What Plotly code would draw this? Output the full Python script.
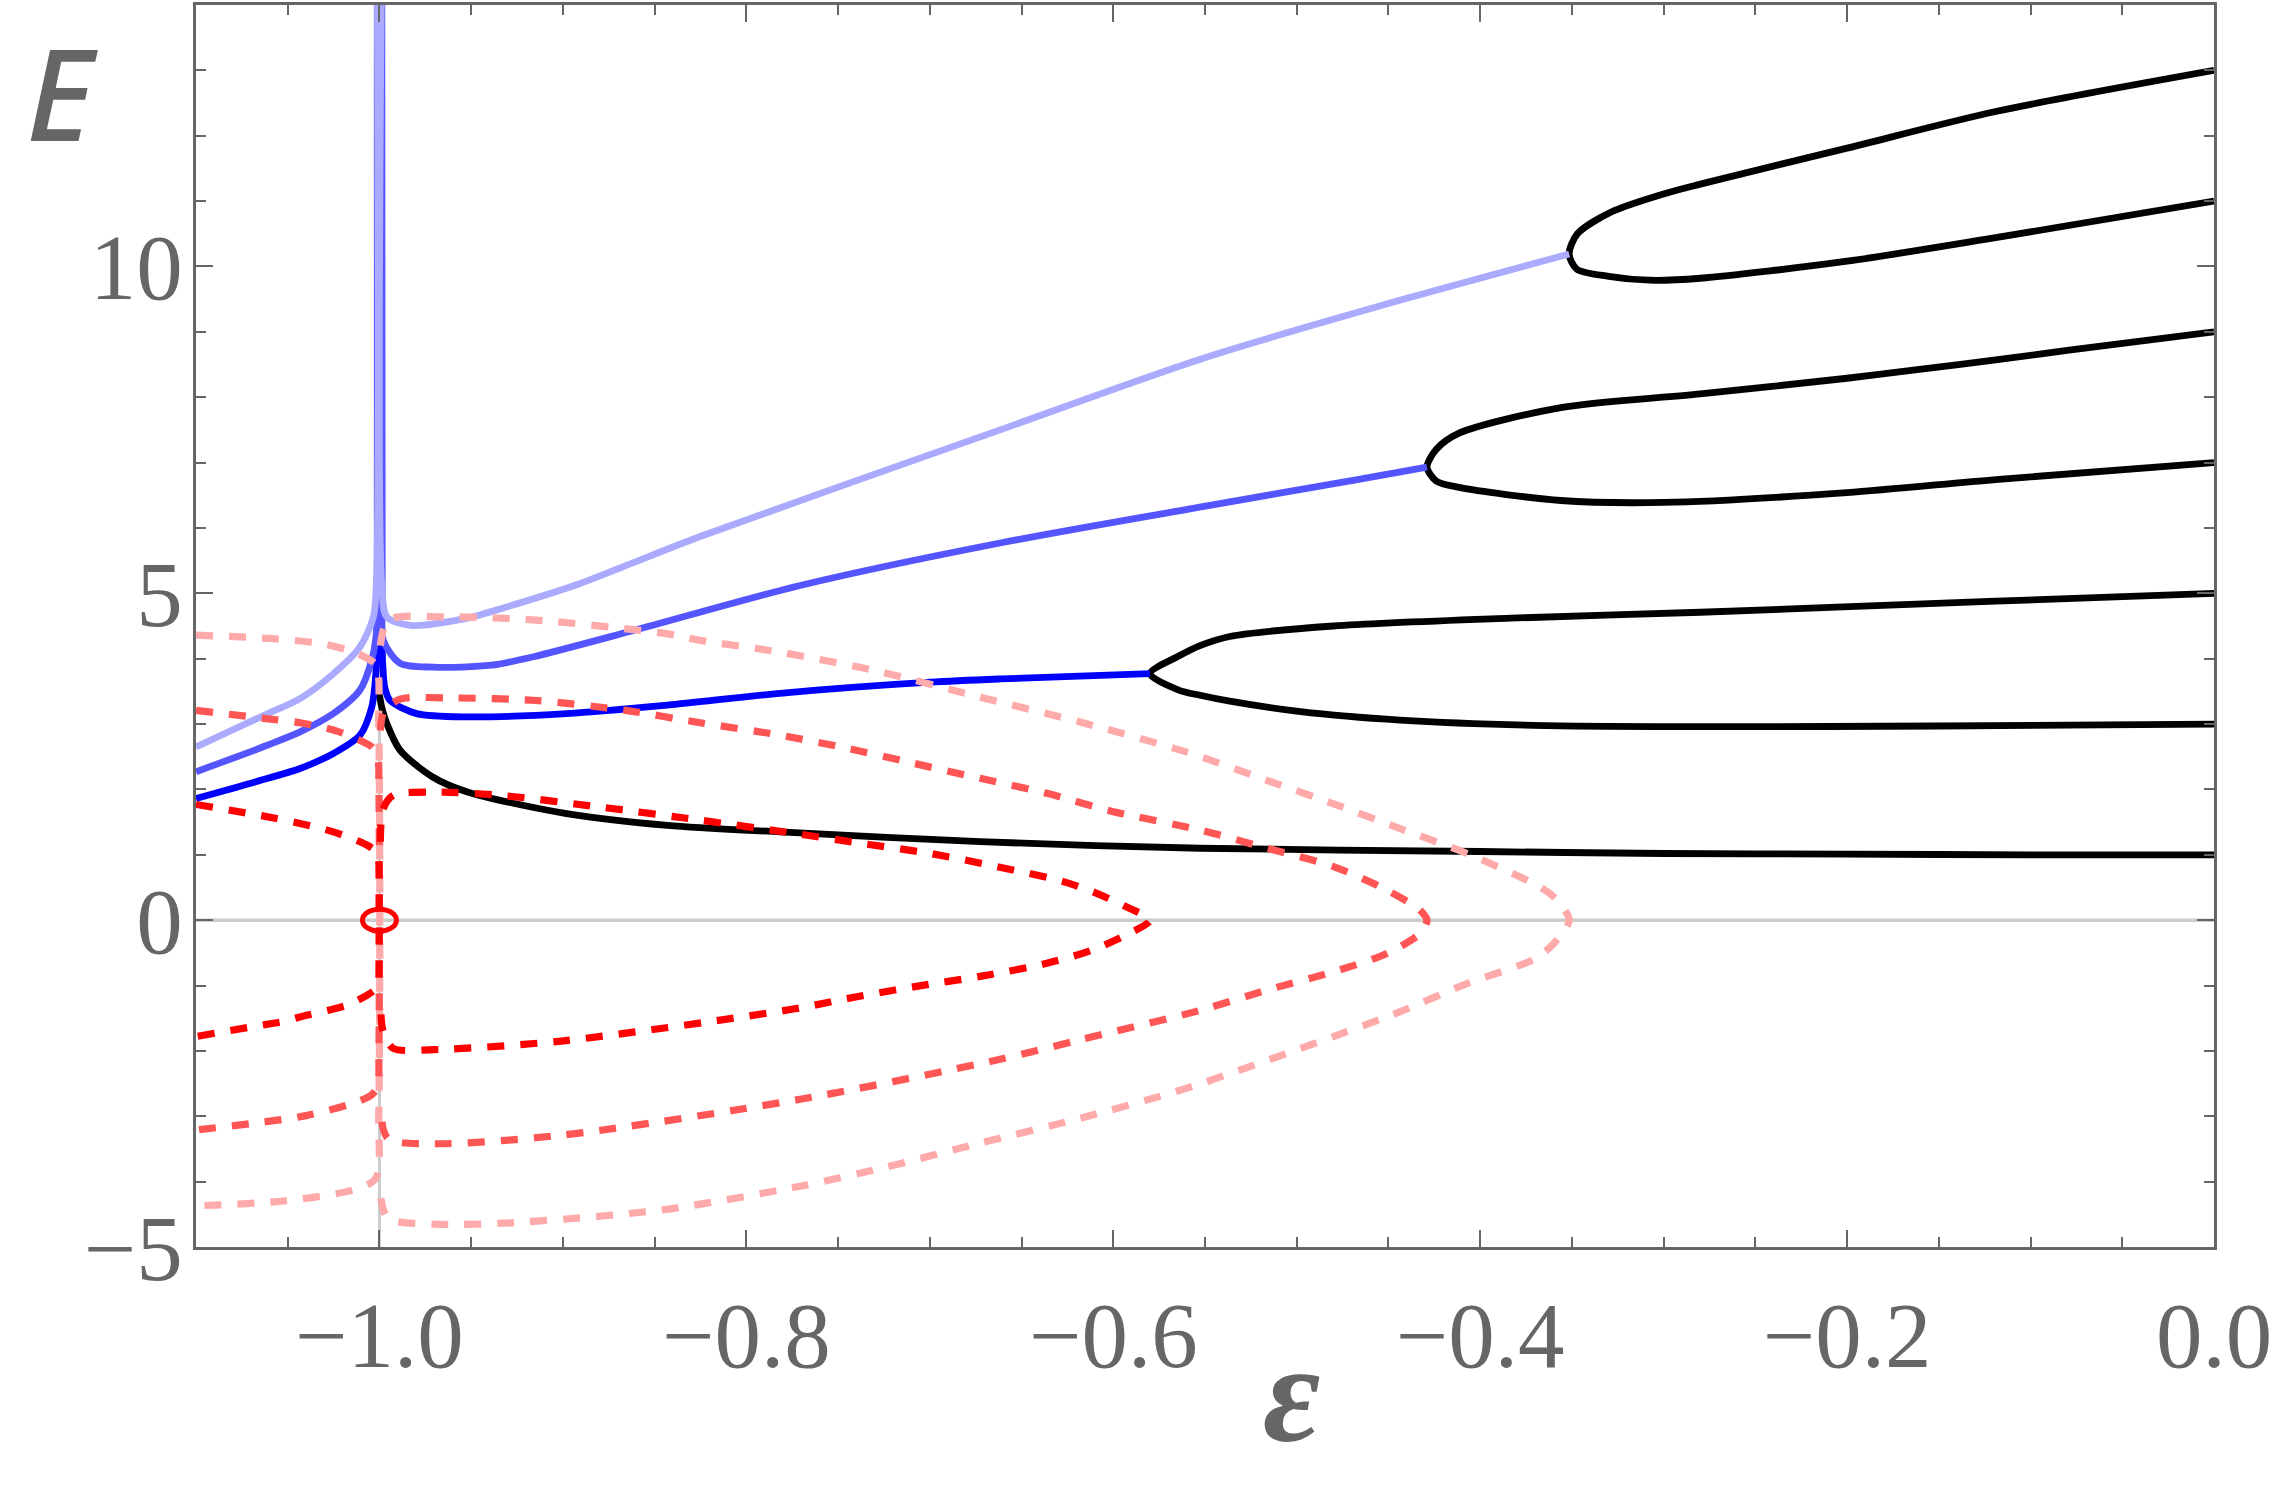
import plotly.graph_objects as go

# ---------------- data ----------------
# real eigenvalues (black)
g_eps = [-1.0006, -0.9988, -0.996, -0.9888, -0.971, -0.952, -0.898, -0.843, -0.7816, -0.6726, -0.5526, -0.4, -0.3, -0.2, -0.1, 0.0]
g_E   = [3.55, 3.26, 3.01, 2.6, 2.19, 1.96, 1.63, 1.45, 1.35, 1.20, 1.10, 1.05, 1.02, 1.01, 1.0, 1.0]

p2_eps = [0.0, -0.119, -0.28, -0.3836, -0.48, -0.5365, -0.5527, -0.5643, -0.58,
          -0.5643, -0.5527, -0.5365, -0.498, -0.4436, -0.371, -0.28, -0.15, 0.0]
p2_E   = [5.0, 4.88, 4.71, 4.62, 4.50, 4.34, 4.2, 4.04, 3.77,
          3.52, 3.44, 3.35, 3.19, 3.06, 2.98, 2.96, 2.97, 3.0]

p3_eps = [0.0, -0.079, -0.119, -0.1595, -0.2, -0.28, -0.356, -0.4115, -0.424, -0.429,
          -0.424, -0.4115, -0.356, -0.3, -0.2, -0.119, 0.0]
p3_E   = [9.0, 8.72, 8.57, 8.43, 8.29, 8.05, 7.84, 7.45, 7.2, 6.93,
          6.72, 6.62, 6.42, 6.39, 6.54, 6.74, 7.0]

p4_eps = [0.0, -0.119, -0.2, -0.28, -0.3, -0.328, -0.347, -0.3515,
          -0.3474, -0.33, -0.308, -0.28, -0.2, -0.119, 0.0]
p4_E   = [13.0, 12.37, 11.81, 11.26, 11.11, 10.84, 10.5, 10.19,
          9.96, 9.85, 9.79, 9.82, 10.08, 10.44, 11.0]

# real parts of complex pairs (blue): left of eps=-1 and right of eps=-1
b1_left_eps  = [-1.1, -1.0608, -1.0433, -1.0251, -1.0106, -1.0042, -1.0024, -1.0012, -1.0012]
b1_left_E    = [1.86, 2.17, 2.32, 2.55, 2.83, 3.26, 3.62, 4.3, 15.0]
b1_right_eps = [-0.9988, -0.9987, -0.9982, -0.997, -0.9942, -0.9797, -0.952, -0.898, -0.843, -0.7816, -0.6998, -0.6617, -0.58]
b1_right_E   = [15.0, 4.5, 3.9, 3.55, 3.36, 3.16, 3.11, 3.16, 3.29, 3.47, 3.64, 3.69, 3.77]

b2_left_eps  = [-1.1, -1.0608, -1.0433, -1.0251, -1.0106, -1.0042, -1.0019, -1.0012, -1.0012]
b2_left_E    = [2.27, 2.68, 2.88, 3.16, 3.52, 3.98, 4.33, 5.0, 15.0]
b2_right_eps = [-0.9988, -0.9986, -0.9979, -0.9888, -0.9706, -0.939, -0.916, -0.8616, -0.7707, -0.6617, -0.5505, -0.467, -0.429]
b2_right_E   = [15.0, 5.0, 4.28, 3.93, 3.87, 3.90, 4.03, 4.43, 5.12, 5.77, 6.33, 6.74, 6.93]

b3_left_eps  = [-1.1, -1.0608, -1.0433, -1.0251, -1.0106, -1.0033, -1.0015, -1.0012]
b3_left_E    = [2.65, 3.16, 3.39, 3.77, 4.18, 4.64, 5.3, 15.0]
b3_right_eps = [-0.9988, -0.9987, -0.996, -0.9833, -0.952, -0.9392, -0.8906, -0.8616, -0.8252, -0.6617, -0.5505, -0.439, -0.3515]
b3_right_E   = [15.0, 5.1, 4.64, 4.51, 4.62, 4.72, 5.15, 5.47, 5.87, 7.5, 8.6, 9.52, 10.19]

# imaginary parts (+/-) of complex pairs (red, dashed)
r1_left_eps  = [-1.1, -1.0608, -1.0433, -1.0251, -1.0069, -1.0015, -1.0005, -1.0002, -1.0002, -1.0005, -1.0015, -1.0069, -1.0177, -1.0251, -1.0433, -1.0539, -1.0608, -1.1]
r1_left_E    = [1.77, 1.58, 1.48, 1.35, 1.15, 1.04, 0.95, 0.5, -0.5, -0.95, -1.04, -1.15, -1.30, -1.36, -1.48, -1.56, -1.59, -1.78]
r1_right_eps = [-0.9995, -0.998, -0.9924, -0.9706, -0.9343, -0.8797, -0.8252, -0.7744, -0.7362, -0.6998, -0.6635, -0.6272, -0.609, -0.5926, -0.58,
                -0.5926, -0.6108, -0.6362, -0.6726, -0.7089, -0.7452, -0.7744, -0.901, -0.9704, -0.9926, -0.998, -0.9995]
r1_right_E   = [1.2, 1.7, 1.91, 1.96, 1.91, 1.73, 1.53, 1.33, 1.17, 1.02, 0.82, 0.59, 0.41, 0.20, 0.0,
                -0.22, -0.45, -0.66, -0.86, -1.02, -1.20, -1.36, -1.85, -1.98, -1.96, -1.7, -1.2]

r2_left_eps  = [-1.1, -1.0608, -1.0433, -1.0251, -1.0106, -1.0042, -1.001, -1.0003, -1.0003, -1.001, -1.0042, -1.0122, -1.04, -1.1]
r2_left_E    = [3.21, 3.08, 3.02, 2.91, 2.75, 2.65, 2.5, 2.0, -2.0, -2.55, -2.67, -2.78, -2.99, -3.21]
r2_right_eps = [-0.9995, -0.9975, -0.9888, -0.9635, -0.9148, -0.866, -0.8252, -0.7816, -0.7452, -0.7089, -0.6726, -0.6362, -0.5999, -0.5527, -0.5163, -0.48, -0.4509, -0.4327, -0.429,
                -0.4327, -0.4509, -0.48, -0.5163, -0.5527, -0.618, -0.6635, -0.7707, -0.901, -0.9704, -0.9954, -0.9995]
r2_right_E   = [2.9, 3.2, 3.38, 3.40, 3.36, 3.21, 3.02, 2.83, 2.63, 2.40, 2.17, 1.94, 1.66, 1.38, 1.10, 0.82, 0.46, 0.15, 0.0,
                -0.2, -0.51, -0.79, -1.07, -1.38, -1.83, -2.14, -2.74, -3.29, -3.42, -3.34, -2.9]

r3_left_eps  = [-1.1, -1.0608, -1.0316, -1.0122, -1.002, -1.0004, -1.0004, -1.002, -1.0149, -1.0539, -1.1]
r3_left_E    = [4.36, 4.31, 4.23, 4.08, 3.9, 3.0, -3.0, -3.95, -4.13, -4.30, -4.37]
r3_right_eps = [-0.9995, -0.9951, -0.9635, -0.9148, -0.843, -0.8252, -0.7816, -0.7271, -0.6726, -0.618, -0.5599, -0.5163, -0.48, -0.4436, -0.4072, -0.3709, -0.36, -0.3515,
                -0.36, -0.3709, -0.4072, -0.4436, -0.48, -0.5599, -0.618, -0.6726, -0.7271, -0.7707, -0.8454, -0.9288, -0.9704, -0.9954, -0.9995]
r3_right_E   = [4.2, 4.59, 4.64, 4.59, 4.38, 4.28, 4.10, 3.80, 3.41, 3.03, 2.57, 2.14, 1.78, 1.40, 1.02, 0.56, 0.36, 0.0,
                -0.36, -0.6, -0.97, -1.40, -1.78, -2.57, -3.03, -3.41, -3.80, -4.07, -4.43, -4.63, -4.65, -4.56, -4.2]

# exceptional point marker and reference lines
mark_eps = -1.0
mark_E = 0.0
ref_eps = -1.0
ref_E = 0.0

x_ticks = [-1.0, -0.8, -0.6, -0.4, -0.2, 0.0]
x_labels = ["\u22121.0", "\u22120.8", "\u22120.6", "\u22120.4", "\u22120.2", "0.0"]
y_ticks = [-5, 0, 5, 10]
y_labels = ["\u22125", "0", "5", "10"]

# ---------------- styling ----------------
BLACK = "#000000"
BLUE1, BLUE2, BLUE3 = "#0000ff", "#5555ff", "#aaaaff"
RED1, RED2, RED3 = "#ff0000", "#ff5555", "#ffaaaa"
AX = "#666666"
SOLID_W = 6.8
DASH_W = 7.2
DASH = "17px,16px"

fig = go.Figure()

def line(x, y, color, width, dash="solid"):
    fig.add_trace(go.Scatter(x=x, y=y, mode="lines",
                             line=dict(color=color, width=width, dash=dash,
                                       shape="spline", smoothing=0.8),
                             hoverinfo="skip", showlegend=False))

# black real branches
line(g_eps, g_E, BLACK, SOLID_W)
line(p2_eps, p2_E, BLACK, SOLID_W)
line(p3_eps, p3_E, BLACK, SOLID_W)
line(p4_eps, p4_E, BLACK, SOLID_W)

# blue real parts
line(b1_left_eps, b1_left_E, BLUE1, SOLID_W)
line(b1_right_eps, b1_right_E, BLUE1, SOLID_W)
line(b2_left_eps, b2_left_E, BLUE2, SOLID_W)
line(b2_right_eps, b2_right_E, BLUE2, SOLID_W)
line(b3_left_eps, b3_left_E, BLUE3, SOLID_W)
line(b3_right_eps, b3_right_E, BLUE3, SOLID_W)

# red imaginary parts
line(r3_left_eps, r3_left_E, RED3, DASH_W, DASH)
line(r3_right_eps, r3_right_E, RED3, DASH_W, DASH)
line(r2_left_eps, r2_left_E, RED2, DASH_W, DASH)
line(r2_right_eps, r2_right_E, RED2, DASH_W, DASH)
line(r1_left_eps, r1_left_E, RED1, DASH_W, DASH)
line(r1_right_eps, r1_right_E, RED1, DASH_W, DASH)

# reference lines
fig.add_hline(y=ref_E, line=dict(color="#cccccc", width=3.5), layer="below")
fig.add_vline(x=ref_eps, line=dict(color="#cccccc", width=3), layer="below")

# open ellipse at the exceptional point
fig.add_shape(type="circle", xref="x", yref="y",
              xsizemode="pixel", ysizemode="pixel",
              xanchor=mark_eps, yanchor=mark_E,
              x0=-17, x1=17, y0=-11, y1=11,
              line=dict(color=RED1, width=5), fillcolor="rgba(0,0,0,0)", layer="above")

tickfont = dict(family="Liberation Serif, Times New Roman, serif", size=93, color=AX)
common = dict(showline=True, linecolor=AX, linewidth=2.5, mirror="allticks",
              ticks="inside", ticklen=17, tickwidth=2, tickcolor=AX,
              showgrid=False, zeroline=False, tickfont=tickfont)

fig.update_xaxes(range=[-1.1, 0.0], tickvals=x_ticks, ticktext=x_labels,
                 minor=dict(ticks="inside", ticklen=10, tickwidth=2, tickcolor=AX, dtick=0.05, tick0=0, showgrid=False),
                 ticklabelstandoff=6, **common)
fig.update_yaxes(range=[-5, 14], tickvals=y_ticks, ticktext=y_labels,
                 minor=dict(ticks="inside", ticklen=10, tickwidth=2, tickcolor=AX, dtick=1, tick0=0, showgrid=False),
                 ticklabelstandoff=-8, **common)

fig.add_annotation(text="<i>E</i>", xref="paper", yref="paper", x=-0.0664, y=0.93,
                   showarrow=False, xanchor="center", yanchor="middle",
                   font=dict(family="Noto Sans, DejaVu Sans, sans-serif", size=128, color=AX, weight=500))
fig.add_annotation(text="<i>\u03b5</i>", xref="paper", yref="paper", x=0.5431, y=-0.118,
                   showarrow=False, xanchor="center", yanchor="middle",
                   font=dict(family="Liberation Serif, serif", size=140, color=AX, weight=700))

fig.update_layout(width=2279, height=1504,
                  margin=dict(l=196, r=65, t=2, b=257),
                  paper_bgcolor="white", plot_bgcolor="white",
                  showlegend=False)

fig.write_html("out.html")
